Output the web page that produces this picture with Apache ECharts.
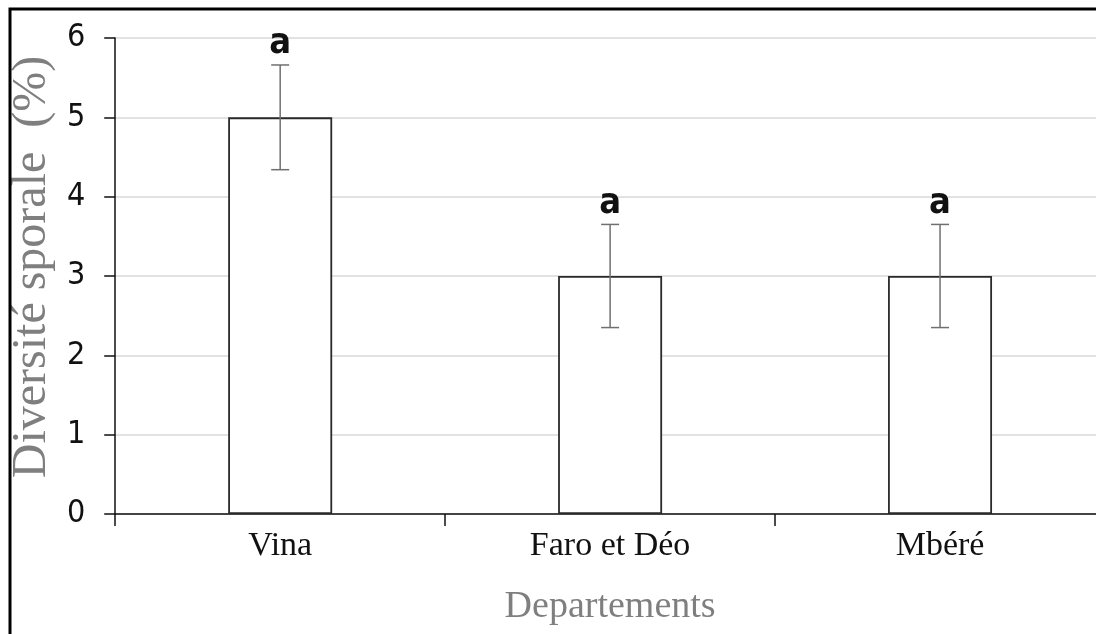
<!DOCTYPE html>
<html>
<head>
<meta charset="utf-8">
<script src="https://cdn.jsdelivr.net/npm/echarts@6/dist/echarts.min.js"></script>
<style>
html,body{margin:0;padding:0;background:#fff;overflow:hidden;width:1096px;height:634px;}
#chart{width:1112px;height:634px;}
</style>
</head>
<body>
<div id="chart"></div>
<script>
var categories = ['Vina', 'Faro et Déo', 'Mbéré'];
var values = [5, 3, 3];
var errors = [0.66, 0.65, 0.65];
var letters = ['a', 'a', 'a'];
var yTicks = [0, 1, 2, 3, 4, 5, 6];

var errData = categories.map(function (c, i) {
  return [i, values[i] - errors[i], values[i] + errors[i]];
});

var chart = echarts.init(document.getElementById('chart'), null, {renderer: 'canvas'});
chart.setOption({
  animation: false,
  backgroundColor: '#ffffff',
  graphic: [{
    type: 'rect',
    shape: {x: 10, y: 9, width: 1200, height: 700},
    style: {fill: null, stroke: '#000', lineWidth: 3},
    silent: true, z: 100
  }],
  grid: {left: 108, top: 38, width: 997, height: 476, containLabel: false},
  xAxis: {
    type: 'category',
    data: categories,
    boundaryGap: true,
    axisLine: {show: true, lineStyle: {color: '#111', width: 1.5}},
    axisTick: {show: true, length: 12, alignWithLabel: false, lineStyle: {color: '#111', width: 1.5}},
    axisLabel: {
      margin: 15,
      color: '#111',
      fontFamily: '"Liberation Serif", "Times New Roman", serif',
      fontSize: 34
    },
    name: 'Departements',
    nameLocation: 'middle',
    nameGap: 74,
    nameTextStyle: {
      color: '#7f7f7f',
      fontFamily: '"Liberation Serif", "Times New Roman", serif',
      fontSize: 38
    }
  },
  yAxis: {
    type: 'value',
    min: 0, max: 6, interval: 1,
    axisLine: {show: true, lineStyle: {color: '#111', width: 1.5}},
    axisTick: {show: true, length: 11, lineStyle: {color: '#111', width: 1.5}},
    axisLabel: {
      margin: 30,
      color: '#111',
      fontFamily: '"DejaVu Sans Condensed", "Liberation Sans", sans-serif',
      fontSize: 32,
      formatter: function (v) { return yTicks.indexOf(v) >= 0 ? String(v) : ''; }
    },
    splitLine: {show: true, lineStyle: {color: '#d9d9d9', width: 1.5}},
    name: 'Diversité sporale  (%)',
    nameLocation: 'middle',
    nameGap: 50,
    nameRotate: 90,
    nameTextStyle: {
      color: '#7f7f7f',
      fontFamily: '"Liberation Serif", "Times New Roman", serif',
      fontSize: 48,
      padding: [0, 0, 0, 18]
    }
  },
  series: [{
    type: 'bar',
    data: values,
    barWidth: 104,
    itemStyle: {color: '#ffffff', borderColor: '#2a2a2a', borderWidth: 1.8},
    z: 2
  }, {
    type: 'custom',
    data: errData,
    z: 3,
    renderItem: function (params, api) {
      var x = api.value(0);
      var lo = api.coord([x, api.value(1)]);
      var hi = api.coord([x, api.value(2)]);
      var cap = 9;
      var ls = {stroke: '#707070', lineWidth: 1.5};
      return {
        type: 'group',
        children: [
          {type: 'line', shape: {x1: hi[0], y1: hi[1], x2: lo[0], y2: lo[1]}, style: ls},
          {type: 'line', shape: {x1: hi[0] - cap, y1: hi[1], x2: hi[0] + cap, y2: hi[1]}, style: ls},
          {type: 'line', shape: {x1: lo[0] - cap, y1: lo[1], x2: lo[0] + cap, y2: lo[1]}, style: ls},
          {type: 'text', style: {
            text: letters[params.dataIndex],
            x: hi[0], y: hi[1] - 21,
            textAlign: 'center', textVerticalAlign: 'middle',
            fill: '#111',
            font: 'bold 36px "DejaVu Sans Condensed", "Liberation Sans", sans-serif'
          }}
        ]
      };
    }
  }]
});
</script>
</body>
</html>
